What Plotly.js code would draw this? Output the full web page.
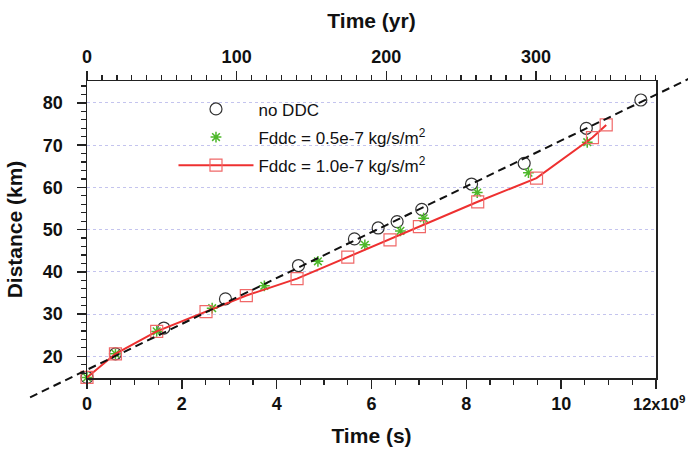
<!DOCTYPE html>
<html><head><meta charset="utf-8">
<script src="https://cdn.plot.ly/plotly-3.0.1.min.js"></script>
<style>html,body{margin:0;padding:0;background:#fff}</style>
</head><body><div id="chart" style="width:688px;height:456px"></div>
<script>
// Time in units of 1e9 s, distance in km
const timeNoDDC = [0, 0.60, 1.62, 2.92, 4.46, 5.64, 6.14, 6.54, 7.06, 8.11, 9.22, 10.53, 11.68];
const distNoDDC = [15.0, 20.6, 26.7, 33.6, 41.5, 47.8, 50.4, 51.9, 54.8, 60.8, 65.7, 74.0, 80.7];

const timeF05 = [0, 0.60, 1.47, 2.64, 3.74, 4.87, 5.86, 6.61, 7.10, 8.23, 9.31, 10.55];
const distF05 = [15.0, 20.6, 25.9, 31.4, 36.7, 42.5, 46.4, 49.7, 52.7, 58.8, 63.5, 70.7];

const timeF10 = [0, 0.60, 1.47, 2.51, 3.36, 4.43, 5.50, 6.39, 7.01, 8.24, 9.48, 10.66, 10.95];
const distF10 = [15.0, 20.6, 25.9, 30.6, 34.4, 38.4, 43.5, 47.6, 50.7, 56.6, 62.2, 71.8, 74.8];

// dashed linear fit (endpoints)
const fitTime = [-1.2, 12.69];
const fitDist = [10.3, 85.7];

const seriesNames = ['no DDC', 'Fddc = 0.5e-7 kg/s/m<sup>2</sup>', 'Fddc = 1.0e-7 kg/s/m<sup>2</sup>'];
const xTickVals = [0, 2, 4, 6, 8, 10, 12];
const xTickText = ['0', '2', '4', '6', '8', '10', ''];
const xLastLabel = '12x10<sup>9</sup>';
const yrTickVals = [0, 100, 200, 300];

const xRange = [0, 12];
const yRange = [14.87, 85.2];
const secPerYear = 365.25 * 86400;
const yrRange = [0, xRange[1] * 1e9 / secPerYear];

const FONT = 'Liberation Sans, Arial, Helvetica, sans-serif';
const AX = '#222';
const MARGIN = {l: 87, r: 32, t: 81, b: 78, pad: 0};
const W = 688;

const traces = [
  {x: timeNoDDC, y: distNoDDC, name: seriesNames[0], mode: 'markers', type: 'scatter', legendgroup: 'a',
   marker: {symbol: 'circle-open', size: 12, color: '#333', line: {width: 1.2, color: '#333'}}, cliponaxis: false},
  {x: timeF05, y: distF05, name: seriesNames[1], mode: 'markers', type: 'scatter', legendgroup: 'b',
   marker: {symbol: 'asterisk-open', size: 9, color: '#4db82a', line: {width: 1.5, color: '#4db82a'}}, cliponaxis: false},
  {x: timeF10, y: distF10, name: seriesNames[2], mode: 'lines+markers', type: 'scatter', legendgroup: 'c',
   line: {color: '#ee3030', width: 2},
   marker: {symbol: 'square-open', size: 12, color: '#f06868', line: {width: 1.2, color: '#f06868'}}, cliponaxis: false},
  {x: [null], y: [null], xaxis: 'x2', showlegend: false, hoverinfo: 'skip', type: 'scatter', mode: 'markers'}
];

const toDom = (v, r) => (v - r[0]) / (r[1] - r[0]);
const plotW = W - MARGIN.l - MARGIN.r;

const layout = {
  width: W, height: 456,
  margin: MARGIN,
  paper_bgcolor: '#fff', plot_bgcolor: '#fff',
  font: {family: FONT, color: '#111'},
  showlegend: true,
  legend: {x: 0.152, y: 0.965, xanchor: 'left', yanchor: 'top', bgcolor: 'rgba(0,0,0,0)',
           font: {family: FONT, size: 17, color: '#111'}, tracegroupgap: 3, itemwidth: 75},
  xaxis: {
    range: xRange, tickvals: xTickVals, ticktext: xTickText,
    showline: true, linecolor: AX, linewidth: 1.5, ticks: 'outside', ticklen: 9, tickwidth: 1.5, tickcolor: AX,
    minor: {dtick: 0.5, ticklen: 5, tickwidth: 1.2, tickcolor: AX, ticks: 'outside'},
    showgrid: false, zeroline: false,
    tickfont: {family: FONT, size: 18, weight: 'bold', color: '#111'},
    title: {text: 'Time (s)', font: {family: FONT, size: 21, weight: 'bold', color: '#111'}, standoff: 15},
    automargin: false
  },
  xaxis2: {
    overlaying: 'x', side: 'top', anchor: 'y', range: yrRange, tickvals: yrTickVals,
    showline: true, linecolor: AX, linewidth: 1.5, ticks: 'outside', ticklen: 9, tickwidth: 1.5, tickcolor: AX,
    minor: {dtick: 10, ticklen: 5, tickwidth: 1.2, tickcolor: AX, ticks: 'outside'},
    showgrid: false, zeroline: false,
    tickfont: {family: FONT, size: 18, weight: 'bold', color: '#111'},
    title: {text: 'Time (yr)', font: {family: FONT, size: 21, weight: 'bold', color: '#111'}, standoff: 13},
    automargin: false
  },
  yaxis: {
    range: yRange, tick0: 0, dtick: 10,
    showline: true, mirror: true, linecolor: AX, linewidth: 1.5, ticks: 'outside', ticklen: 9, tickwidth: 1.5, tickcolor: AX,
    minor: {dtick: 2, ticklen: 5, tickwidth: 1.2, tickcolor: AX, ticks: 'outside'},
    showgrid: true, gridcolor: '#c4c4ee', griddash: 'dot', gridwidth: 1, zeroline: false,
    tickfont: {family: FONT, size: 18, weight: 'bold', color: '#111'},
    ticklabelstandoff: 10,
    title: {text: 'Distance (km)', font: {family: FONT, size: 21, weight: 'bold', color: '#111'}, standoff: 14},
    automargin: false
  },
  shapes: [{
    type: 'line', xref: 'x domain', yref: 'y domain',
    x0: toDom(fitTime[0], xRange), x1: toDom(fitTime[1], xRange),
    y0: toDom(fitDist[0], yRange), y1: toDom(fitDist[1], yRange),
    line: {color: '#111', width: 2, dash: '8px,5px'}, layer: 'above'
  }],
  annotations: [{
    xref: 'paper', yref: 'paper', x: 1 + (MARGIN.r - 1) / plotW, y: 0, yshift: -13,
    xanchor: 'right', yanchor: 'top', showarrow: false, text: xLastLabel,
    font: {family: FONT, size: 16.5, weight: 'bold', color: '#111'}
  }]
};

Plotly.newPlot('chart', traces, layout, {staticPlot: true, displayModeBar: false});
</script>
</body></html>
